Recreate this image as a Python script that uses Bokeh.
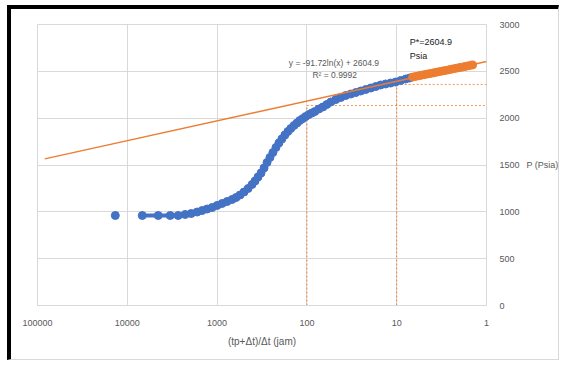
import math

from bokeh.plotting import figure
from bokeh.models import Range1d, FixedTicker, NumeralTickFormatter, Label
from bokeh.embed import file_html
from bokeh.resources import INLINE

# Horner plot: (tp+dt)/dt against shut-in pressure
blue_x = [13600, 6813, 4525, 3329, 2713, 2268, 1944, 1668, 1468, 1292, 1137, 1000,
          880, 774, 681, 615, 555, 501, 452, 408, 378, 350, 324, 300, 278, 258, 239,
          221, 205, 190, 176, 163, 151, 139, 129, 120, 111, 103, 95, 88, 81.5, 73.6,
          66.4, 60, 54.1, 47.6, 41.9, 36.9, 32.4, 28.5, 25.1, 22.1, 19.4, 17.1, 15.1,
          13.3, 11.7, 10.3, 9.03, 7.94, 7.17]
blue_p = [961, 961, 961, 961, 961, 972, 982, 998, 1014, 1030, 1046, 1068,
          1089, 1110, 1132, 1153, 1180, 1212, 1249, 1292, 1329, 1372, 1415, 1468, 1527, 1580, 1633,
          1687, 1735, 1778, 1820, 1858, 1890, 1922, 1948, 1975, 1996, 2018, 2039, 2055, 2071, 2098,
          2119, 2146, 2173, 2199, 2221, 2242, 2258, 2274, 2290, 2306, 2322, 2338, 2354,
          2365, 2375, 2386, 2402, 2418, 2429]

# late-time points used for the straight-line fit
orange_x = [6.64, 6.15, 5.70, 5.28, 4.89, 4.52, 4.19, 3.88, 3.59, 3.33, 3.08,
            2.85, 2.64, 2.45, 2.27, 2.10, 1.94, 1.80, 1.67, 1.545, 1.43]
orange_p = [2439, 2446, 2452, 2459, 2465, 2472, 2478, 2484, 2491, 2497, 2504,
            2510, 2516, 2523, 2529, 2536, 2542, 2548, 2555, 2561, 2568]

# semilog fit  P = a*ln(x) + b
fit_a = -91.72
fit_b = 2604.9
fit_r2 = 0.9992
fit_x = [83000, 1]

# read-off guide lines
guide_x = [100, 10]
guide_p = [2135, 2360]

x_ticks = [100000, 10000, 1000, 100, 10, 1]
y_ticks = [0, 500, 1000, 1500, 2000, 2500, 3000]

BLUE = "#4472C4"
ORANGE = "#ED7D31"
GRID = "#D9D9D9"
TXT = "#595959"
FONT = "Liberation Sans"

p = figure(width=552, height=355, x_axis_type="log",
           x_range=Range1d(100000, 1), y_range=Range1d(0, 3000),
           y_axis_location="right", output_backend="svg", toolbar_location=None,
           min_border_left=26, min_border_top=15, min_border_right=77,
           min_border_bottom=59)
p.background_fill_color = "white"
p.border_fill_color = "white"
p.outline_line_color = GRID
# sheet frame: heavy black edge on the left and top, faint edge elsewhere
p.styles = {
    "margin-left": "7px",
    "margin-top": "5px",
    "border-left": "4px solid black",
    "border-top": "4px solid black",
    "border-right": "1px solid #D9D9D9",
    "border-bottom": "1px solid #D9D9D9",
}

# grid
p.xgrid.ticker = FixedTicker(ticks=x_ticks)
p.ygrid.ticker = FixedTicker(ticks=y_ticks)
for g in (p.xgrid, p.ygrid):
    g.grid_line_color = GRID
    g.grid_line_width = 1
    g.minor_grid_line_color = None

# x axis
xa = p.xaxis[0]
xa.ticker = FixedTicker(ticks=x_ticks)
xa.formatter = NumeralTickFormatter(format="0")
xa.axis_line_color = GRID
xa.major_tick_line_color = None
xa.minor_tick_line_color = None
xa.major_label_standoff = 8
xa.major_label_text_font = FONT
xa.major_label_text_font_size = "9px"
xa.major_label_text_color = TXT
xa.axis_label = "(tp+\u0394t)/\u0394t (jam)"
xa.axis_label_standoff = 7
xa.axis_label_text_font = FONT
xa.axis_label_text_font_size = "10px"
xa.axis_label_text_font_style = "normal"
xa.axis_label_text_color = TXT

# y axis on the right
ya = p.yaxis[0]
ya.ticker = FixedTicker(ticks=y_ticks)
ya.axis_line_color = None
ya.major_tick_line_color = None
ya.minor_tick_line_color = None
ya.major_label_standoff = 7
ya.major_label_text_font = FONT
ya.major_label_text_font_size = "9px"
ya.major_label_text_color = TXT
ya.axis_label = "P (Psia)"
ya.axis_label_orientation = "horizontal"
ya.axis_label_standoff = 4
ya.axis_label_text_font = FONT
ya.axis_label_text_font_size = "9px"
ya.axis_label_text_font_style = "normal"
ya.axis_label_text_color = TXT

# dotted read-off lines
p.segment(x0=guide_x, y0=[0, 0], x1=guide_x, y1=guide_p,
          line_color=ORANGE, line_width=1, line_dash="2 2")
p.segment(x0=guide_x, y0=guide_p, x1=[1, 1], y1=guide_p,
          line_color=ORANGE, line_width=1, line_dash="2 2", line_alpha=0.8)

# data
p.line(blue_x[1:], blue_p[1:], line_color=BLUE, line_width=4)
p.scatter(blue_x, blue_p, size=8, fill_color=BLUE, line_color=BLUE)
p.line(orange_x, orange_p, line_color=ORANGE, line_width=4)
p.scatter(orange_x, orange_p, size=8, fill_color=ORANGE, line_color=ORANGE)

# fitted line
fit_y = [fit_a * math.log(x) + fit_b for x in fit_x]
p.line(fit_x, fit_y, line_color=ORANGE, line_width=1.3)

# annotations
p.add_layout(Label(x=50, y=2594, text="y = -91.72ln(x) + 2604.9",
                   text_align="center", text_baseline="middle",
                   text_font=FONT, text_font_size="8.5px", text_color=TXT))
p.add_layout(Label(x=49, y=2466, text="R\u00b2 = %.4f" % fit_r2,
                   text_align="center", text_baseline="middle",
                   text_font=FONT, text_font_size="8.5px", text_color=TXT))
p.add_layout(Label(x=7.17, y=2808, text="P*=%.1f" % fit_b,
                   text_align="left", text_baseline="middle",
                   text_font=FONT, text_font_size="9px", text_color="#1A1A1A"))
p.add_layout(Label(x=7.17, y=2669, text="Psia",
                   text_align="left", text_baseline="middle",
                   text_font=FONT, text_font_size="9px", text_color="#1A1A1A"))

open("out.html", "w").write(file_html(p, INLINE))
